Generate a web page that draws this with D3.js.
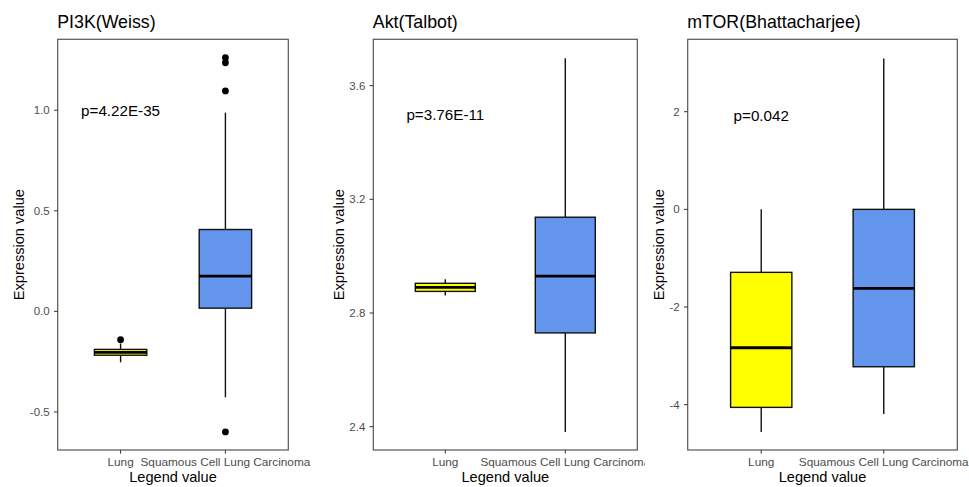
<!DOCTYPE html>
<html>
<head>
<meta charset="utf-8">
<script src="https://cdn.jsdelivr.net/npm/d3@7"></script>
<style>
  html, body { margin: 0; padding: 0; background: #fff; }
  svg { display: block; }
  text { font-family: "Liberation Sans", Arial, Helvetica, sans-serif; }
</style>
</head>
<body>
<svg id="chart" width="969" height="487"></svg>
<script>
// ---------------- DATA ----------------
const categories = ["Lung", "Squamous Cell Lung Carcinoma"];
const panelTitles = ["PI3K(Weiss)", "Akt(Talbot)", "mTOR(Bhattacharjee)"];
const pLabels = ["p=4.22E-35", "p=3.76E-11", "p=0.042"];
const pLabelY = [1.0, 3.5, 1.93];
const yDomains = [[-0.689, 1.3525], [2.318, 3.763], [-4.928, 3.483]];
const yTicks = [[-0.5, 0.0, 0.5, 1.0], [2.4, 2.8, 3.2, 3.6], [-4, -2, 0, 2]];
const yTickFormats = [".1f", ".1f", "d"];
// box stats: [lower whisker, Q1, median, Q3, upper whisker]
const lungStats = [
  [-0.253, -0.218, -0.2035, -0.189, -0.160],
  [2.862, 2.876, 2.890, 2.9045, 2.919],
  [-4.56, -4.055, -2.834, -1.290, 0.0]
];
const sccStats = [
  [-0.427, 0.016, 0.175, 0.407, 0.988],
  [2.381, 2.730, 2.930, 3.137, 3.696],
  [-4.19, -3.223, -1.618, 0.0, 3.092]
];
const lungOutliers = [[-0.141], [], []];
const sccOutliers = [[1.261, 1.236, 1.096, -0.599], [], []];
const fillColors = ["#FFFF00", "#6495ED"];

// ---------------- LAYOUT ----------------
(function () {
const svg = d3.select("#chart");
const panels = [
  {x0: 0,   x1: 323, left: 57.7,  right: 288.3},
  {x0: 323, x1: 645, left: 373.3, right: 637.3},
  {x0: 645, x1: 969, left: 687.7, right: 957.3}
];
const pTop = 39.3, pBottom = 450;
const subOrigins = [0, 320, 640];

const defs = svg.append("defs");

panels.forEach((p, i) => {
  defs.append("clipPath").attr("id", "clip" + i)
    .append("rect").attr("x", p.x0).attr("y", 0).attr("width", p.x1 - p.x0).attr("height", 487);

  const g = svg.append("g").attr("clip-path", `url(#clip${i})`);

  const x = d3.scalePoint().domain(categories).range([p.left, p.right]).padding(0.6);
  const y = d3.scaleLinear().domain(yDomains[i]).range([pBottom, pTop]);
  const bw = x.step() * 0.5;

  // title
  g.append("text").attr("x", p.left - 0.5).attr("y", 28)
    .attr("font-size", 17.8).attr("fill", "#000").text(panelTitles[i]);

  // boxes
  const groups = [
    {cat: categories[0], s: lungStats[i], out: lungOutliers[i], fill: fillColors[0]},
    {cat: categories[1], s: sccStats[i], out: sccOutliers[i], fill: fillColors[1]}
  ];
  groups.forEach(b => {
    const cx = x(b.cat);
    g.append("line").attr("x1", cx).attr("x2", cx)
      .attr("y1", y(b.s[3])).attr("y2", y(b.s[4]))
      .attr("stroke", "#111").attr("stroke-width", 1.4);
    g.append("line").attr("x1", cx).attr("x2", cx)
      .attr("y1", y(b.s[1])).attr("y2", y(b.s[0]))
      .attr("stroke", "#111").attr("stroke-width", 1.4);
    g.append("rect").attr("x", cx - bw / 2).attr("width", bw)
      .attr("y", y(b.s[3])).attr("height", y(b.s[1]) - y(b.s[3]))
      .attr("fill", b.fill).attr("stroke", "#111").attr("stroke-width", 1.4);
    g.append("line").attr("x1", cx - bw / 2).attr("x2", cx + bw / 2)
      .attr("y1", y(b.s[2])).attr("y2", y(b.s[2]))
      .attr("stroke", "#000").attr("stroke-width", 2.8);
    g.selectAll(null).data(b.out).enter().append("circle")
      .attr("cx", cx).attr("cy", d => y(d)).attr("r", 3.4).attr("fill", "#000");
  });

  // p-value annotation
  g.append("text").attr("x", x(categories[0])).attr("y", y(pLabelY[i]))
    .attr("text-anchor", "middle").attr("dominant-baseline", "central")
    .attr("font-size", 15.2).attr("fill", "#000").text(pLabels[i]);

  // panel border
  g.append("rect").attr("x", p.left).attr("y", pTop)
    .attr("width", p.right - p.left).attr("height", pBottom - pTop)
    .attr("fill", "none").attr("stroke", "#555").attr("stroke-width", 1.2);

  // y axis
  const fmt = d3.format(yTickFormats[i]);
  yTicks[i].forEach(t => {
    g.append("line").attr("x1", p.left - 3.7).attr("x2", p.left)
      .attr("y1", y(t)).attr("y2", y(t)).attr("stroke", "#333").attr("stroke-width", 1);
    g.append("text").attr("x", p.left - 8).attr("y", y(t))
      .attr("text-anchor", "end").attr("dominant-baseline", "central")
      .attr("font-size", 11.5).attr("fill", "#4d4d4d").text(fmt(t).replace("\u2212", "-"));
  });

  // x axis
  categories.forEach(c => {
    g.append("line").attr("x1", x(c)).attr("x2", x(c))
      .attr("y1", pBottom).attr("y2", pBottom + 3.7).attr("stroke", "#333").attr("stroke-width", 1);
    g.append("text").attr("x", x(c)).attr("y", 466)
      .attr("text-anchor", "middle").attr("font-size", 11.8).attr("fill", "#4d4d4d").text(c);
  });

  // axis titles
  g.append("text").attr("x", (p.left + p.right) / 2).attr("y", 482)
    .attr("text-anchor", "middle").attr("font-size", 14.6).attr("fill", "#000").text("Legend value");
  const yt = subOrigins[i] + 19, ym = (pTop + pBottom) / 2;
  g.append("text").attr("transform", `translate(${yt},${ym}) rotate(-90)`)
    .attr("text-anchor", "middle").attr("dominant-baseline", "central")
    .attr("font-size", 14.6).attr("fill", "#000").text("Expression value");
});
})();
</script>
</body>
</html>
